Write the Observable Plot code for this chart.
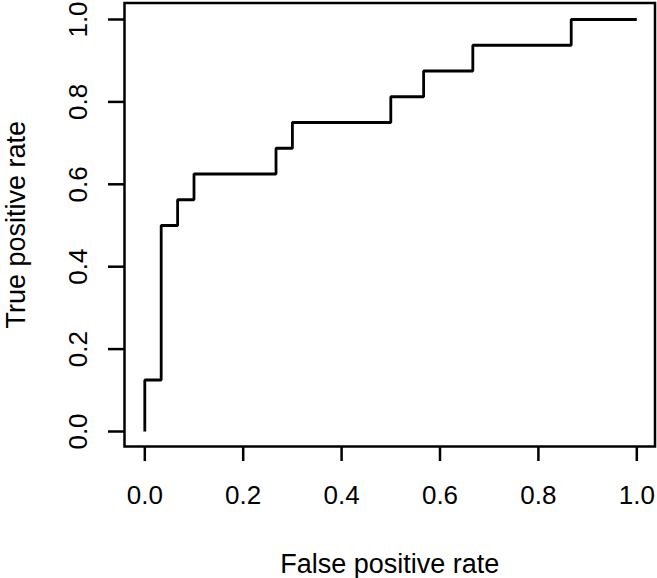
<!DOCTYPE html>
<html><head><meta charset="utf-8">
<script src="https://cdn.jsdelivr.net/npm/d3@7"></script>
<script src="https://cdn.jsdelivr.net/npm/@observablehq/plot@0.6"></script>
<style>body{margin:0;background:#fff}</style>
</head><body><div id="chart"></div>
<script>
// ROC curve corner points
const fpr = [0, 0, 0.0333, 0.0333, 0.0667, 0.0667, 0.1, 0.1, 0.2667, 0.2667, 0.3, 0.3, 0.5, 0.5, 0.5667, 0.5667, 0.6667, 0.6667, 0.8667, 0.8667, 1];
const tpr = [0, 0.125, 0.125, 0.5, 0.5, 0.5625, 0.5625, 0.625, 0.625, 0.6875, 0.6875, 0.75, 0.75, 0.8125, 0.8125, 0.875, 0.875, 0.9375, 0.9375, 1, 1];
const xTicks = [0, 0.2, 0.4, 0.6, 0.8, 1.0];
const yTicks = [0, 0.2, 0.4, 0.6, 0.8, 1.0];
const xLabel = "False positive rate";
const yLabel = "True positive rate";

const data = fpr.map((x, i) => ({x, y: tpr[i]}));
const fmt = d => d.toFixed(1);

const chart = Plot.plot({
  width: 657, height: 578,
  marginLeft: 124, marginRight: 2.5, marginTop: 2.5, marginBottom: 132,
  style: {fontFamily: "'Liberation Sans', Arial, sans-serif", fontSize: "26px", background: "#fff", color: "#000"},
  x: {domain: [0, 1], insetLeft: 20.3, insetRight: 18.2},
  y: {domain: [0, 1], insetTop: 16.5, insetBottom: 15},
  marks: [
    Plot.frame({stroke: "#000", strokeWidth: 2.5}),
    Plot.axisX({ticks: xTicks, tickFormat: fmt, tickSize: 15, tickPadding: 24, strokeWidth: 2.5,
      fontSize: 26, label: null}),
    Plot.axisX({ticks: [], tickSize: 0, fontSize: 27, label: xLabel, labelAnchor: "center", labelArrow: "none", labelOffset: 126}),
    Plot.axisY({ticks: yTicks, tickFormat: fmt, tickSize: 16, tickPadding: 22, tickRotate: -90, strokeWidth: 2.5,
      fontSize: 26, label: null}),
    Plot.axisY({ticks: [], tickSize: 0, fontSize: 27, label: yLabel, labelAnchor: "center", labelArrow: "none", labelOffset: 119}),
    Plot.line(data, {x: "x", y: "y", stroke: "#000", strokeWidth: 2.8, strokeLinejoin: "miter", strokeLinecap: "butt"})
  ]
});
document.getElementById("chart").appendChild(chart);
</script>
</body></html>
